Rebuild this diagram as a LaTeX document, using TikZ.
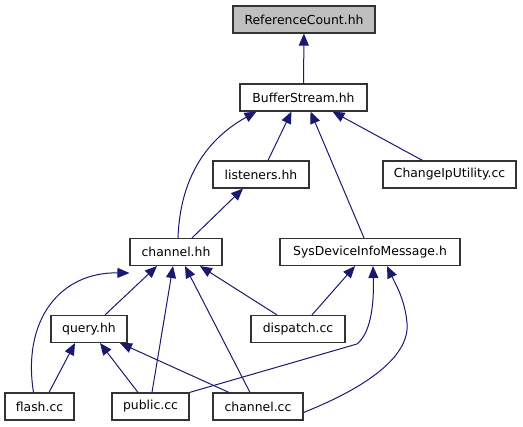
\documentclass[tikz,border=0pt]{standalone}
\usepackage{fontspec}
\setmainfont{DejaVu Sans}
\usepackage{xcolor}
\usepackage{tikz}
\usetikzlibrary{arrows.meta, calc}
\definecolor{midnightblue}{RGB}{25,25,112}
\definecolor{refgray}{RGB}{191,191,191}

\begin{document}
\begin{tikzpicture}[x=1pt, y=-1pt, >={Triangle[length=12pt,width=10pt]},
  file/.style={draw=black!80, line width=1.1pt, minimum height=27pt,
    inner sep=0pt, font=\fontsize{12.4}{14}\selectfont},
  dep/.style={->, draw=midnightblue, line width=1pt}]
  \useasboundingbox (0,0) rectangle (523,427);

  %% Files
  \node[file, fill=refgray, minimum width=142pt] (refcount) at (304,19.5) {ReferenceCount.hh};
  \node[file, minimum width=127pt] (bufstream) at (303.5,97.5) {BufferStream.hh};
  \node[file, minimum width=96pt] (listeners) at (261,174.5) {listeners.hh};
  \node[file, minimum width=133pt] (changeip) at (449.5,174.5) {ChangeIpUtility.cc};
  \node[file, minimum width=92pt] (channelhh) at (176,252) {channel.hh};
  \node[file, minimum width=180pt] (sysdev) at (370,252) {SysDeviceInfoMessage.h};
  \node[file, minimum width=76pt] (query) at (89,329) {query.hh};
  \node[file, minimum width=94pt] (dispatch) at (298,329) {dispatch.cc};
  \node[file, minimum width=69pt] (flash) at (39.5,406.5) {flash.cc};
  \node[file, minimum width=77pt] (public) at (150.5,406.5) {public.cc};
  \node[file, minimum width=90pt] (channelcc) at (258,406.5) {channel.cc};

  %% Into ReferenceCount / BufferStream
  \draw[dep] (bufstream) -- (refcount);
  \draw[dep] ([xshift=2pt]channelhh.north) .. controls (180,180) and (205,140)
    .. ([xshift=-47pt]bufstream.south);
  \draw[dep] ([xshift=7pt]listeners.north) -- ([xshift=-12pt]bufstream.south);
  \draw[dep] ([xshift=-6pt]sysdev.north) -- ([xshift=7pt]bufstream.south);
  \draw[dep] ([xshift=-27pt]changeip.north) -- ([xshift=29pt]bufstream.south);
  \draw[dep] ([xshift=16pt]channelhh.north) -- ([xshift=-18pt]listeners.south);

  %% Into channel.hh
  \draw[dep] ([xshift=-6pt]flash.north) .. controls (22,320) and (60,272)
    .. ([yshift=-7pt]channelhh.south west);
  \draw[dep] ([xshift=16pt]query.north) -- ([xshift=-19pt]channelhh.south);
  \draw[dep] ([xshift=1.5pt]public.north) -- ([xshift=-3pt]channelhh.south);
  \draw[dep] ([xshift=-8pt]channelcc.north) -- ([xshift=9pt]channelhh.south);
  \draw[dep] ([xshift=-21pt]dispatch.north) -- ([xshift=24pt]channelhh.south);

  %% Into SysDeviceInfoMessage.h
  \draw[dep] ([xshift=14pt]dispatch.north) -- ([xshift=-15pt]sysdev.south);
  \draw[dep] (public.north east) -- (357,344) .. controls (372,332) and (374,300)
    .. ([xshift=3pt]sysdev.south);
  \draw[dep] ([yshift=-6pt]channelcc.east) .. controls (370,386) and (410,355)
    .. (407,323) .. controls (405,300) and (396,285) .. ([xshift=17pt]sysdev.south);

  %% Into query.hh
  \draw[dep] ([xshift=9.5pt]flash.north) -- ([xshift=-14pt]query.south);
  \draw[dep] ([xshift=-12.5pt]public.north) -- ([xshift=11pt]query.south);
  \draw[dep] ([xshift=-29pt]channelcc.north) -- ([xshift=31pt]query.south);
\end{tikzpicture}
\end{document}
